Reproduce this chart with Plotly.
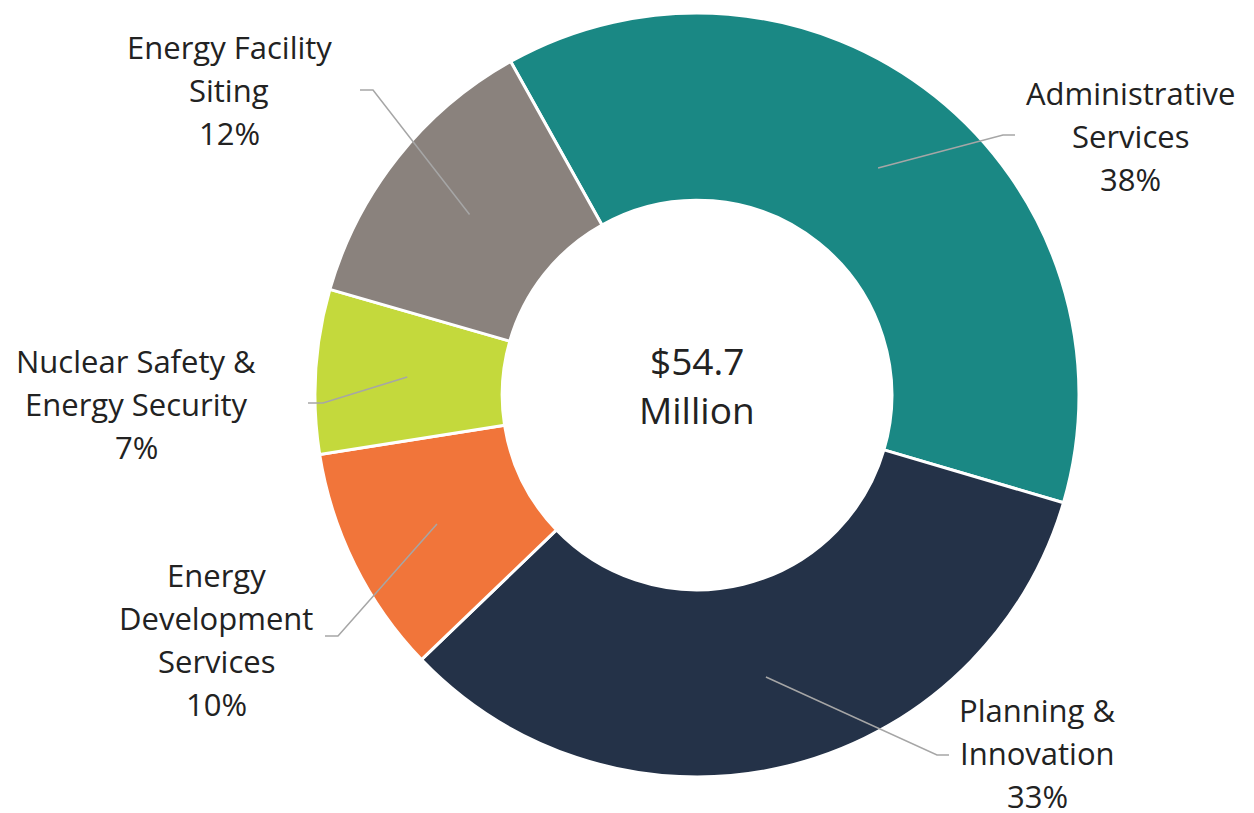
import math
import plotly.graph_objects as go

# ---- data ----
categories = ["Administrative Services", "Planning & Innovation",
              "Energy Development Services", "Nuclear Safety & Energy Security",
              "Energy Facility Siting"]
label_lines = [["Administrative", "Services"], ["Planning &", "Innovation"],
               ["Energy", "Development", "Services"], ["Nuclear Safety &", "Energy Security"],
               ["Energy Facility", "Siting"]]
values_musd = [20.6, 18.2, 5.3, 3.8, 6.8]   # $ million
colors = ["#1A8884", "#243248", "#F1753A", "#C4D93C", "#8A827D"]

# ---- layout / style ----
W, H = 1254, 813
OFF = 8            # page body margin
cx, cy, R = 697, 395, 382
HOLE = 0.51
ROTATION = 330.8
FONT = "Open Sans"
TXT = "#222222"
LEAD = "#A6A6A6"
LINE_SP = 43
# label text-block centres and leader elbow/end points (page pixels)
label_centres = [(1130, 136), (1037, 753), (216, 639), (136, 404), (229, 90)]
elbows = [((1003, 135), (1015, 135)), ((937, 755), (949, 755)),
          ((338, 636), (325, 636)), ((323, 403), (308, 403)),
          ((373, 90), (360, 90))]

def px(x):
    return (x - OFF) / W

def py(y):
    return 1 - (y - OFF) / H

total = sum(values_musd)

fig = go.Figure(go.Pie(
    labels=categories, values=values_musd, sort=False, direction="clockwise",
    rotation=ROTATION, hole=HOLE, textinfo="none", hoverinfo="label+percent",
    marker=dict(colors=colors, line=dict(color="white", width=3)),
    domain=dict(x=[px(cx - R), px(cx + R)], y=[py(cy + R), py(cy - R)]),
    showlegend=False,
))

annotations = []
shapes = []
cum = 0.0
for i, v in enumerate(values_musd):
    pct = round(100 * v / total)
    mid = math.radians(ROTATION + 360 * (cum + v / 2) / total)
    cum += v
    r0 = R * 0.76
    sx, sy = cx + r0 * math.sin(mid), cy - r0 * math.cos(mid)
    (bx, by), (ex, ey) = elbows[i]
    shapes.append(dict(type="path", xref="paper", yref="paper",
                       path=f"M {px(sx)},{py(sy)} L {px(bx)},{py(by)} L {px(ex)},{py(ey)}",
                       line=dict(color=LEAD, width=1.5)))
    lines = label_lines[i] + [f"{pct}%"]
    lx, ly = label_centres[i]
    n = len(lines)
    for j, t in enumerate(lines):
        yy = ly + (j - (n - 1) / 2) * LINE_SP
        annotations.append(dict(x=px(lx), y=py(yy), xref="paper", yref="paper",
                                text=t, showarrow=False, xanchor="center", yanchor="middle",
                                font=dict(family=FONT, size=31, color=TXT)))

center_lines = [f"${total:.1f}", "Million"]
for j, t in enumerate(center_lines):
    yy = cy - 10 + (j - 0.5) * 50
    annotations.append(dict(x=px(cx), y=py(yy), xref="paper", yref="paper",
                            text=t, showarrow=False, xanchor="center", yanchor="middle",
                            font=dict(family=FONT, size=37, color=TXT)))

fig.update_layout(width=W, height=H, margin=dict(l=0, r=0, t=0, b=0),
                  paper_bgcolor="white", plot_bgcolor="white",
                  annotations=annotations, shapes=shapes)

fig.write_html("out.html")
